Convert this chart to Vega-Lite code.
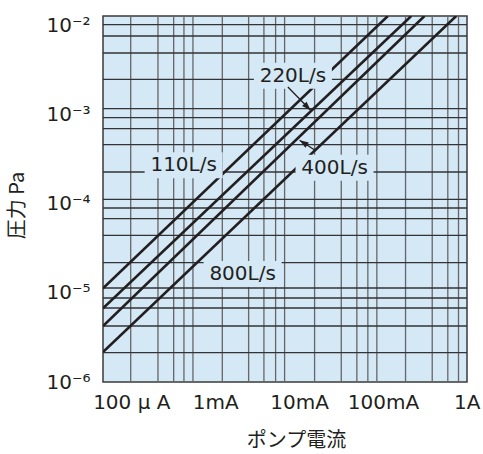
{
  "$schema": "https://vega.github.io/schema/vega-lite/v6.json",
  "width": 364,
  "height": 366,
  "autosize": {"type": "none"},
  "padding": {"left": 103, "top": 16, "right": 16, "bottom": 72},
  "background": "white",
  "config": {
    "view": {"fill": "#d4e8f6", "stroke": "#3a3a3a", "strokeWidth": 1.5},
    "axis": {"grid": false, "ticks": false, "domain": false}
  },
  "datasets": {
    "vgrid": [
      {"x": 9.84e-5}, {"x": 2.08e-4}, {"x": 3.2e-4}, {"x": 4.244e-4}, {"x": 5.433e-4},
      {"x": 1.217e-3}, {"x": 2.505e-3}, {"x": 3.812e-3}, {"x": 5.254e-3}, {"x": 6.725e-3},
      {"x": 1.532e-2}, {"x": 3.186e-2}, {"x": 4.888e-2}, {"x": 6.61e-2}, {"x": 8.461e-2},
      {"x": 0.186}, {"x": 0.3869}, {"x": 0.5935}, {"x": 0.796}
    ],
    "hgrid": [
      {"y": 2.139e-6}, {"y": 4.258e-6}, {"y": 6.785e-6}, {"y": 8.786e-6}, {"y": 1.138e-5},
      {"y": 2.196e-5}, {"y": 4.448e-5}, {"y": 6.855e-5}, {"y": 9.018e-5}, {"y": 1.129e-4},
      {"y": 2.289e-4}, {"y": 4.649e-4}, {"y": 7.033e-4}, {"y": 9.35e-4}, {"y": 1.18e-3},
      {"y": 2.518e-3}, {"y": 4.972e-3}, {"y": 7.72e-3}, {"y": 1.037e-2}
    ],
    "lines": [
      {"series": "110L/s", "x": 4.6e-5, "y": 1.129e-5},
      {"series": "110L/s", "x": 0.1144, "y": 0.01295},
      {"series": "220L/s", "x": 4.6e-5, "y": 6.732e-6},
      {"series": "220L/s", "x": 0.2175, "y": 0.01295},
      {"series": "400L/s", "x": 4.6e-5, "y": 4.258e-6},
      {"series": "400L/s", "x": 0.3132, "y": 0.01295},
      {"series": "800L/s", "x": 4.6e-5, "y": 2.173e-6},
      {"series": "800L/s", "x": 0.7474, "y": 0.01295}
    ],
    "labels": [
      {"label": "110L/s", "x": 4.209e-4, "y": 2.721e-4},
      {"label": "220L/s", "x": 8.445e-3, "y": 2.756e-3},
      {"label": "400L/s", "x": 2.651e-2, "y": 2.551e-4},
      {"label": "800L/s", "x": 2.125e-3, "y": 1.635e-5}
    ],
    "leaders": [
      {"leader": "220L/s", "x": 7.362e-3, "y": 2.063e-3},
      {"leader": "220L/s", "x": 1.372e-2, "y": 1.129e-3},
      {"leader": "400L/s", "x": 1.553e-2, "y": 4.011e-4},
      {"leader": "400L/s", "x": 1.015e-2, "y": 5.196e-4}
    ],
    "tips": [
      {"leader": "220L/s", "x": 1.372e-2, "y": 1.129e-3},
      {"leader": "400L/s", "x": 1.015e-2, "y": 5.196e-4}
    ]
  },
  "layer": [
    {
      "data": {"name": "vgrid"},
      "mark": {"type": "rule", "color": "#666666", "strokeWidth": 1.3},
      "encoding": {
        "x": {
          "field": "x", "type": "quantitative",
          "scale": {"type": "log", "domain": [4.6e-5, 1.005], "nice": false},
          "axis": {
            "values": [0.0001, 0.001, 0.01, 0.1, 1],
            "labelExpr": "datum.value < 0.0005 ? '100 μ A' : datum.value < 0.005 ? '1mA' : datum.value < 0.05 ? '10mA' : datum.value < 0.5 ? '100mA' : '1A'",
            "grid": false, "ticks": false, "domain": false,
            "labelFont": "DejaVu Sans", "labelFontSize": 20, "labelColor": "#231f20",
            "labelPadding": 10, "labelFlush": false, "labelOverlap": false,
            "title": "ポンプ電流", "titleFont": "Noto Sans CJK JP", "titleFontSize": 20,
            "titleFontWeight": "normal", "titleColor": "#231f20",
            "titleX": 193, "titleY": 58, "titleBaseline": "middle", "titleAlign": "center"
          }
        }
      }
    },
    {
      "data": {"name": "hgrid"},
      "mark": {"type": "rule", "color": "#333333", "strokeWidth": 1.3},
      "encoding": {
        "y": {
          "field": "y", "type": "quantitative",
          "scale": {"type": "log", "domain": [1e-6, 0.01295], "nice": false},
          "axis": {
            "values": [1e-6, 1e-5, 1e-4, 1e-3, 1e-2],
            "labelExpr": "datum.value > 0.005 ? '10⁻²' : datum.value > 0.0005 ? '10⁻³' : datum.value > 0.00005 ? '10⁻⁴' : datum.value > 0.000005 ? '10⁻⁵' : '10⁻⁶'",
            "grid": false, "ticks": false, "domain": false,
            "labelFont": "DejaVu Sans", "labelFontSize": 20, "labelColor": "#231f20",
            "labelPadding": 13, "labelFlush": false, "labelOverlap": false,
            "title": "圧力 Pa", "titleFont": "Noto Sans CJK JP", "titleFontSize": 20,
            "titleFontWeight": "normal", "titleColor": "#231f20",
            "titleX": -86, "titleY": 189, "titleBaseline": "middle", "titleAlign": "center", "titleAngle": -90
          }
        }
      }
    },
    {
      "data": {"name": "lines"},
      "mark": {"type": "line", "color": "#231f20", "strokeWidth": 2.6, "clip": true},
      "encoding": {
        "x": {"field": "x", "type": "quantitative", "scale": {"type": "log", "domain": [4.6e-5, 1.005], "nice": false}},
        "y": {"field": "y", "type": "quantitative", "scale": {"type": "log", "domain": [1e-6, 0.01295], "nice": false}},
        "detail": {"field": "series"}
      }
    },
    {
      "data": {"name": "labels"},
      "mark": {"type": "point", "shape": "M-1,-0.333H1V0.333H-1Z", "size": 6084, "filled": true, "fill": "#d4e8f6", "opacity": 1, "strokeWidth": 0},
      "encoding": {
        "x": {"field": "x", "type": "quantitative", "scale": {"type": "log", "domain": [4.6e-5, 1.005], "nice": false}},
        "y": {"field": "y", "type": "quantitative", "scale": {"type": "log", "domain": [1e-6, 0.01295], "nice": false}}
      }
    },
    {
      "data": {"name": "labels"},
      "mark": {"type": "text", "font": "DejaVu Sans", "fontSize": 20, "color": "#231f20", "align": "center", "baseline": "middle"},
      "encoding": {
        "x": {"field": "x", "type": "quantitative", "scale": {"type": "log", "domain": [4.6e-5, 1.005], "nice": false}},
        "y": {"field": "y", "type": "quantitative", "scale": {"type": "log", "domain": [1e-6, 0.01295], "nice": false}},
        "text": {"field": "label"}
      }
    },
    {
      "data": {"name": "leaders"},
      "mark": {"type": "line", "color": "#231f20", "strokeWidth": 1.3},
      "encoding": {
        "x": {"field": "x", "type": "quantitative", "scale": {"type": "log", "domain": [4.6e-5, 1.005], "nice": false}},
        "y": {"field": "y", "type": "quantitative", "scale": {"type": "log", "domain": [1e-6, 0.01295], "nice": false}},
        "detail": {"field": "leader"}
      }
    },
    {
      "data": {"name": "tips"},
      "transform": [{"filter": "datum.leader == '220L/s'"}],
      "mark": {"type": "point", "shape": "M0,0L0.35,1L-0.35,1Z", "size": 324, "angle": 136, "filled": true, "color": "#231f20", "opacity": 1},
      "encoding": {
        "x": {"field": "x", "type": "quantitative", "scale": {"type": "log", "domain": [4.6e-5, 1.005], "nice": false}},
        "y": {"field": "y", "type": "quantitative", "scale": {"type": "log", "domain": [1e-6, 0.01295], "nice": false}}
      }
    },
    {
      "data": {"name": "tips"},
      "transform": [{"filter": "datum.leader == '400L/s'"}],
      "mark": {"type": "point", "shape": "M0,0L0.35,1L-0.35,1Z", "size": 324, "angle": 303, "filled": true, "color": "#231f20", "opacity": 1},
      "encoding": {
        "x": {"field": "x", "type": "quantitative", "scale": {"type": "log", "domain": [4.6e-5, 1.005], "nice": false}},
        "y": {"field": "y", "type": "quantitative", "scale": {"type": "log", "domain": [1e-6, 0.01295], "nice": false}}
      }
    }
  ]
}
